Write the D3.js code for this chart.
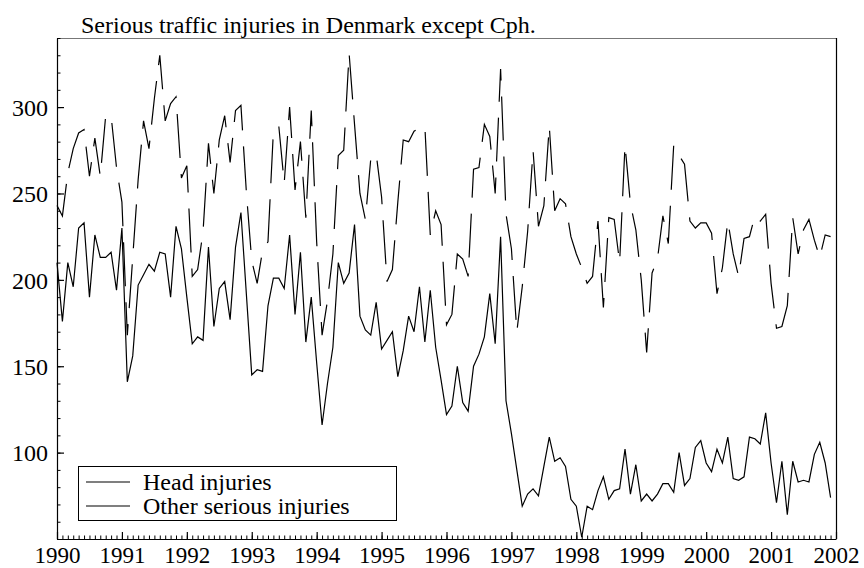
<!DOCTYPE html>
<html>
<head>
<meta charset="utf-8">
<script src="https://cdn.jsdelivr.net/npm/d3@7"></script>
<style>
  html, body { margin: 0; padding: 0; background: #fff; }
  svg { display: block; }
  text { font-family: "Liberation Serif", "Times New Roman", Times, serif; fill: #000; }
</style>
</head>
<body>
<svg id="chart" width="864" height="568"></svg>
<script>
// ---------- data (monthly, Jan 1990 - Dec 2001) ----------
const title = "Serious traffic injuries in Denmark except Cph.";
const startYear = 1990;
const yearTicks = [1990,1991,1992,1993,1994,1995,1996,1997,1998,1999,2000,2001,2002];
const valueTicks = [100,150,200,250,300];
const seriesNames = ["Head injuries", "Other serious injuries"];

const headInjuries = [
  210,176,210,196,230,233,190,226,213,213,216,194,
  230,141,156,197,203,209,205,216,215,190,231,218,
  190,163,167,165,219,173,195,199,177,219,239,192,
  145,148,147,185,201,201,195,226,180,216,164,190,
  152,116,140,161,210,198,204,232,179,171,168,187,
  160,165,170,144,159,179,170,196,164,194,161,142,
  122,127,150,129,124,150,157,167,192,163,225,130,
  111,90,69,76,79,75,92,109,95,97,92,73,
  69,51,69,67,78,86,73,78,79,102,76,93,
  72,76,72,76,82,82,77,100,81,85,103,107,
  94,89,102,94,109,85,84,86,109,108,105,123,
  94,71,95,64,95,83,84,83,99,106,94,74
];

const otherInjuries = [
  243,237,262,276,285,287,260,282,260,295,295,265,
  245,168,213,258,292,276,305,330,292,302,306,259,
  266,202,206,228,279,250,281,295,268,298,301,251,
  211,198,217,222,286,289,256,300,252,280,236,298,
  222,168,188,215,272,275,331,290,250,235,270,273,
  248,199,206,245,281,280,286,288,289,226,240,232,
  174,180,215,212,202,264,265,290,283,250,322,238,
  218,170,196,228,275,231,243,289,240,247,244,225,
  215,207,198,202,234,184,236,235,210,278,244,229,
  200,158,204,212,237,221,278,272,267,234,230,233,
  233,227,192,207,234,215,202,224,225,237,234,238,
  198,172,173,185,236,215,229,235,223,213,226,225
];

// ---------- layout ----------
const svg = d3.select("#chart");
const plotLeft = 57, plotRight = 836, plotTop = 38, plotBottom = 539;

const x = d3.scaleLinear().domain([1990, 2002]).range([plotLeft, plotRight]);
const y = d3.scaleLinear().domain([50, 340]).range([plotBottom, plotTop]);

const monthTime = (i) => startYear + i / 12;

// frame: top (grey) and right
svg.append("line").attr("x1", plotLeft).attr("x2", plotRight).attr("y1", plotTop + 0.5).attr("y2", plotTop + 0.5)
  .attr("stroke", "#777").attr("stroke-width", 1.2);
svg.append("line").attr("x1", plotRight + 0.5).attr("x2", plotRight + 0.5).attr("y1", plotTop).attr("y2", plotBottom)
  .attr("stroke", "#000").attr("stroke-width", 1.2);

// minor x ticks (monthly)
const monthTicks = d3.range(0, 145).map(monthTime);
svg.append("g").attr("transform", `translate(0,${plotBottom})`)
  .call(d3.axisBottom(x).tickValues(monthTicks).tickSizeInner(-3.5).tickSizeOuter(0).tickFormat(""))
  .call(g => g.select(".domain").remove())
  .call(g => g.selectAll(".tick line").attr("stroke", "#000").attr("stroke-width", 1));

// major x axis
const gx = svg.append("g").attr("transform", `translate(0,${plotBottom})`)
  .call(d3.axisBottom(x).tickValues(yearTicks).tickSizeInner(-7).tickSizeOuter(0).tickFormat(d3.format("d")));
gx.select(".domain").attr("stroke", "#000").attr("stroke-width", 1.2);
gx.selectAll(".tick line").attr("stroke", "#000").attr("stroke-width", 1.2);
gx.selectAll(".tick text").attr("font-size", 23).attr("font-family", "Liberation Serif, Times New Roman, serif")
  .attr("dy", null).attr("y", 24);

// minor y ticks (every 10)
const minorY = d3.range(50, 341, 10);
svg.append("g").attr("transform", `translate(${plotLeft},0)`)
  .call(d3.axisLeft(y).tickValues(minorY).tickSizeInner(-3.5).tickSizeOuter(0).tickFormat(""))
  .call(g => g.select(".domain").remove())
  .call(g => g.selectAll(".tick line").attr("stroke", "#000").attr("stroke-width", 1));

// major y axis
const gy = svg.append("g").attr("transform", `translate(${plotLeft},0)`)
  .call(d3.axisLeft(y).tickValues(valueTicks).tickSizeInner(-7).tickSizeOuter(0).tickPadding(9));
gy.select(".domain").attr("stroke", "#000").attr("stroke-width", 1.2);
gy.selectAll(".tick line").attr("stroke", "#000").attr("stroke-width", 1.2);
gy.selectAll(".tick text").attr("font-size", 24).attr("font-family", "Liberation Serif, Times New Roman, serif")
  .attr("dy", "0.34em");

// lines
const line = d3.line().x((d, i) => x(monthTime(i))).y(d => y(d));

svg.append("path").datum(otherInjuries)
  .attr("d", line).attr("fill", "none").attr("stroke", "#000").attr("stroke-width", 1.2)
  .attr("stroke-dasharray", "44,16");

svg.append("path").datum(headInjuries)
  .attr("d", line).attr("fill", "none").attr("stroke", "#000").attr("stroke-width", 1.2);

// title
svg.append("text").attr("x", 81).attr("y", 33).attr("font-size", 24).text(title);

// legend
const lg = svg.append("g");
lg.append("rect").attr("x", 78.5).attr("y", 466.5).attr("width", 318).attr("height", 54)
  .attr("fill", "#fff").attr("stroke", "#000").attr("stroke-width", 1);
seriesNames.forEach((name, k) => {
  const yy = 482 + k * 24;
  lg.append("line").attr("x1", 86).attr("x2", 130).attr("y1", yy).attr("y2", yy)
    .attr("stroke", "#000").attr("stroke-width", 1.2);
  lg.append("text").attr("x", 143).attr("y", yy + 8).attr("font-size", 24).text(name);
});
</script>
</body>
</html>
